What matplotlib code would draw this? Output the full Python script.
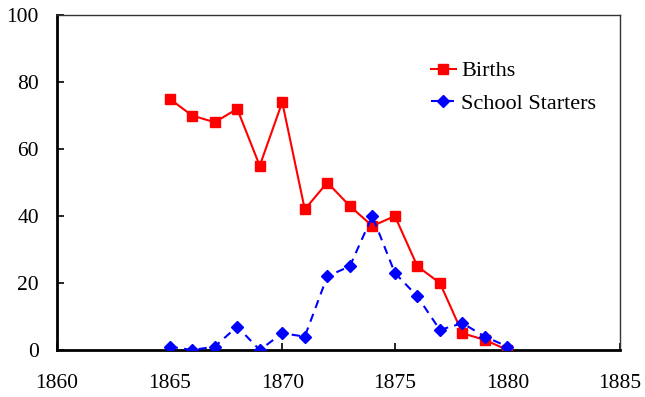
import matplotlib
matplotlib.use("Agg")
import matplotlib.pyplot as plt

years = [1865, 1866, 1867, 1868, 1869, 1870, 1871, 1872, 1873, 1874,
         1875, 1876, 1877, 1878, 1879, 1880]
births = [75, 70, 68, 72, 55, 74, 42, 50, 43, 37, 40, 25, 20, 5, 3, 0]
starters = [1, 0, 1, 7, 0, 5, 4, 22, 25, 40, 23, 16, 6, 8, 4, 1]
xticks = [1860, 1865, 1870, 1875, 1880, 1885]
yticks = [0, 20, 40, 60, 80, 100]

plt.rcParams['font.family'] = ['Liberation Serif', 'DejaVu Serif']

fig = plt.figure(figsize=(6.45, 3.97), dpi=100)
ax = fig.add_axes([0.0884, 0.1184, 0.873, 0.8436])

ax.plot(years, births, color='#ff0000', lw=1.5, marker='s', ms=7.5,
        label='Births', zorder=3)
ax.plot(years, starters, color='#0000ff', lw=1.5, ls=(0, (4, 3)), marker='D',
        ms=6.5, label='School Starters', zorder=4)

ax.set_xlim(1860, 1885)
ax.set_ylim(0, 100)
ax.set_xticks(xticks)
ax.set_yticks(yticks)
ax.tick_params(direction='in', labelsize=15.5, length=5, width=1.2,
               top=False, right=False)
ax.tick_params(axis='y', pad=13)
ax.tick_params(axis='x', pad=17)

for side in ('left', 'bottom'):
    ax.spines[side].set_linewidth(2)
    ax.spines[side].set_color('black')
for side in ('top', 'right'):
    ax.spines[side].set_linewidth(1)
    ax.spines[side].set_color('#333333')

leg = ax.legend(loc='upper right', bbox_to_anchor=(0.985, 0.91), frameon=False,
                fontsize=16, handlelength=1.1, handletextpad=0.25,
                labelspacing=0.55, borderaxespad=0.3)

fig.savefig('out.png', dpi=100)
